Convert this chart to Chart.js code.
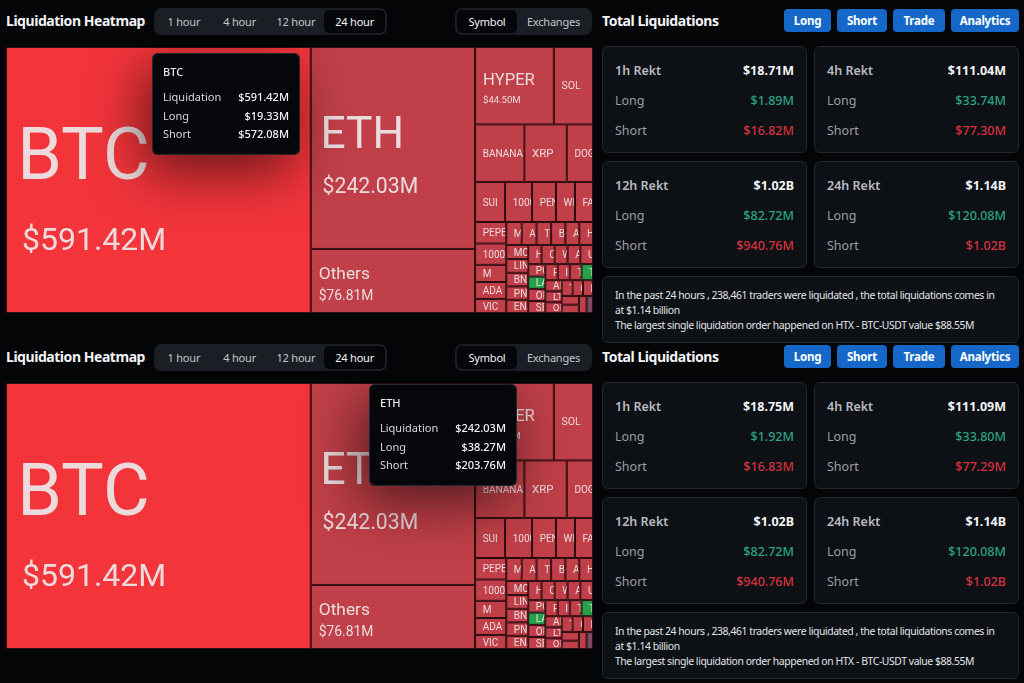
<!DOCTYPE html>
<html>
<head>
<meta charset="utf-8">
<script src="https://cdn.jsdelivr.net/npm/chart.js@4.4.1/dist/chart.umd.min.js"></script>
<style>
  body { margin:0; background:#030507; width:1024px; height:683px; overflow:hidden; position:relative; font-family:"Noto Sans", sans-serif; color:#e6e8eb; }
  .panel { position:absolute; left:0; top:0; width:1024px; height:345px; }
  .title { position:absolute; font-weight:700; font-size:14px; line-height:18px; color:#f3f4f6; letter-spacing:-0.45px; }
  .seg { position:absolute; top:8px; height:27px; background:#1b1e25; border-radius:7px; display:flex; align-items:center; padding:0 2px; box-sizing:border-box; }
  .seg span { font-size:11px; color:#c4c7cd; height:23px; line-height:23px; text-align:center; border-radius:5px; letter-spacing:-0.2px; }
  .seg span.on { background:#04060a; color:#f5f5f5; }
  .btn { position:absolute; top:9px; height:23px; line-height:23px; background:#1668c8; color:#fff; font-weight:700; font-size:11.5px; text-align:center; border-radius:4px; letter-spacing:-0.2px; }
  .card { position:absolute; width:205px; height:107px; background:#0d1015; border:1px solid #23272f; border-radius:6px; box-sizing:border-box; }
  .row { position:absolute; left:12px; right:12px; height:18px; line-height:18px; font-size:12.5px; display:flex; justify-content:space-between; }
  .row .k { color:#9b9fa7; }
  .row.head .k { color:#b8bbc1; font-weight:600; }
  .row .v { font-weight:600; }
  .row.head .v { color:#f3f4f6; font-weight:700; }
  .row .v.g { color:#2aa482; font-weight:500; }
  .row .v.r { color:#d5323f; font-weight:500; }
  .info { position:absolute; left:602px; top:276px; width:417px; height:67px; background:#0d1015; border:1px solid #23272f; border-radius:6px; box-sizing:border-box; padding:11px 0 0 12px; font-size:10.4px; line-height:15px; color:#e3e5e8; letter-spacing:-0.42px; white-space:nowrap; overflow:hidden; }
  .map { position:absolute; left:6px; top:47px; }
</style>
</head>
<body>
<script>
// treemap data (24h, by symbol)
const names = ['BTC', 'ETH', 'Others', 'HYPER', 'SOL', 'BANANAS', 'XRP', 'DOGE', 'SUI', '1000PEPE', 'PENGU', 'WIF', 'FARTCOIN',
  'PEPE', '1000BONK', 'M', 'ADA', 'VIC',
  'MYX', 'AVAX', 'TIA', 'BCH', 'AAVE', 'HBAR',
  'MOODENG', 'LINK', 'BNB', 'PNUT', 'ENA',
  'HOME', 'ONDO', 'WLD', 'APT', 'UNI',
  'POPCAT', 'LAYER', 'OP', 'SEI',
  'PUMP', 'IP', 'TRUMP', 'TAO',
  'AI16Z', 'LTC', 'ORDI',
  'TON', 'CRV', 'NEAR', 'INJ', 'ARB', 'JUP', 'MEW'];
const values = [591.42, 242.03, 76.81, 44.50, 22.1, 20.7, 17.8, 11.0, 8.76, 7.88, 7.0, 5.55, 5.26,
  4.9, 4.85, 3.9, 3.85, 3.2,
  2.6, 2.5, 2.45, 2.4, 2.35, 2.3,
  2.25, 2.2, 2.18, 2.15, 2.12,
  1.85, 1.82, 1.8, 1.78, 1.76,
  1.55, 1.53, 1.51, 1.49,
  1.45, 1.42, 1.38, 1.35,
  1.33, 1.3, 1.28,
  1.25, 1.2, 1.15, 1.1, 1.05, 0.95, 0.8];
// share of longs in each symbol's liquidations
const longShare = [0.033, 0.158, 0.2, 0.18, 0.2, 0.22, 0.2, 0.25, 0.2, 0.2, 0.2, 0.2, 0.25,
  0.2, 0.2, 0.3, 0.2, 0.25,
  0.2, 0.2, 0.2, 0.2, 0.2, 0.2,
  0.2, 0.2, 0.2, 0.2, 0.2,
  0.2, 0.2, 0.2, 0.2, 0.2,
  0.2, 0.7, 0.2, 0.2,
  0.2, 0.2, 0.2, 0.7,
  0.2, 0.2, 0.2,
  0.2, 0.2, 0.2, 0.2, 0.2, 0.2, 0.5];

// tooltips shown in the two shots
const tipSymbol = ['BTC', 'ETH'];
const tipLiq = ['$591.42M', '$242.03M'];
const tipLong = ['$19.33M', '$38.27M'];
const tipShort = ['$572.08M', '$203.76M'];

// stats cards
const periods = ['1h Rekt', '4h Rekt', '12h Rekt', '24h Rekt'];
const totalsA = ['$18.71M', '$111.04M', '$1.02B', '$1.14B'];
const longsA = ['$1.89M', '$33.74M', '$82.72M', '$120.08M'];
const shortsA = ['$16.82M', '$77.30M', '$940.76M', '$1.02B'];
const totalsB = ['$18.75M', '$111.09M', '$1.02B', '$1.14B'];
const longsB = ['$1.92M', '$33.80M', '$82.72M', '$120.08M'];
const shortsB = ['$16.83M', '$77.29M', '$940.76M', '$1.02B'];

const tabs = ['1 hour', '4 hour', '12 hour', '24 hour'];
const infoLines = [
  'In the past 24 hours , 238,461 traders were liquidated , the total liquidations comes in',
  'at $1.14 billion',
  'The largest single liquidation order happened on HTX - BTC-USDT value $88.55M'
];

const RATIO = 0.5 * (1 + Math.sqrt(5));

function worst(row, fixed) {
  let max = 0, min = Infinity;
  row.forEach(n => { if (n.area > max) max = n.area; if (n.area < min) min = n.area; });
  const sq = row.area * row.area;
  const f = fixed * fixed * RATIO;
  return sq ? Math.max(f * max / sq, sq / (f * min)) : Infinity;
}

function position(row, fixed, rect, flush) {
  const horiz = fixed === rect.w;
  let last = horiz ? rect.x : rect.y;
  let other = fixed ? row.area / fixed : 0;
  const otherMax = horiz ? rect.h : rect.w;
  if (flush || other > otherMax) other = otherMax;
  row.forEach((n, i) => {
    const step = other ? n.area / other : 0;
    const remain = (horiz ? rect.x + rect.w : rect.y + rect.h) - last;
    const len = (i === row.length - 1 || remain < step) ? remain : step;
    if (horiz) { n.x0 = last; n.x1 = last + len; n.y0 = rect.y; n.y1 = rect.y + other; }
    else { n.y0 = last; n.y1 = last + len; n.x0 = rect.x; n.x1 = rect.x + other; }
    last += len;
  });
  if (horiz) { rect.y += other; rect.h -= other; } else { rect.x += other; rect.w -= other; }
}

function squarify(w, h) {
  const total = values.reduce((a, b) => a + b, 0);
  const nodes = names.map((n, i) => ({ name: n, value: values[i], longShare: longShare[i], area: values[i] / total * w * h }));
  nodes.sort((a, b) => b.value - a.value);
  const rect = { x: 0, y: 0, w: w, h: h };
  let fixed = Math.min(w, h), best = Infinity;
  const row = []; row.area = 0;
  for (let i = 0; i < nodes.length;) {
    row.push(nodes[i]); row.area += nodes[i].area;
    const score = worst(row, fixed);
    if (score <= best) { i++; best = score; }
    else {
      row.area -= row.pop().area;
      position(row, fixed, rect, false);
      fixed = Math.min(rect.w, rect.h);
      row.length = 0; row.area = 0; best = Infinity;
    }
  }
  if (row.length) position(row, fixed, rect, true);
  nodes.forEach(n => { n.x = (n.x0 + n.x1) / 2; n.y = (n.y0 + n.y1) / 2; });
  return nodes;
}

function cellColor(ls) {
  if (ls < 0.08) return '#f3353b';
  if (ls < 0.42) return '#c13f48';
  if (ls < 0.58) return '#7a4b5b';
  return '#29a04a';
}

const treemapPlugin = {
  id: 'treemap',
  afterDatasetsDraw(chart) {
    const { ctx, scales: { x, y } } = chart;
    const cells = chart.data.datasets[0].data;
    ctx.save();
    cells.forEach(c => {
      const l = x.getPixelForValue(c.x0), r = x.getPixelForValue(c.x1);
      const t = y.getPixelForValue(c.y0), b = y.getPixelForValue(c.y1);
      ctx.fillStyle = cellColor(c.longShare);
      ctx.fillRect(l, t, r - l, b - t);
      ctx.strokeStyle = '#2a0e12';
      ctx.lineWidth = 1;
      ctx.strokeRect(l + 0.5, t + 0.5, r - l - 1, b - t - 1);
    });
    // labels
    cells.forEach(c => {
      const l = x.getPixelForValue(c.x0), r = x.getPixelForValue(c.x1);
      const t = y.getPixelForValue(c.y0), b = y.getPixelForValue(c.y1);
      const w = r - l, h = b - t;
      if (h < 10 || w < 8) return;
      ctx.save();
      ctx.beginPath(); ctx.rect(l + 1, t + 1, w - 2, h - 2); ctx.clip();
      ctx.font = '100px Roboto';
      const em = ctx.measureText(c.name).width / 100;
      let fs = Math.max(10, Math.min(0.27 * Math.min(w, h), 0.8 * (w - 14) / em));
      if (h < 14) fs = Math.min(fs, h - 1);
      const pad = 7 + fs * 0.06;
      ctx.fillStyle = 'rgba(236,228,230,0.95)';
      ctx.textBaseline = 'alphabetic';
      ctx.textAlign = 'left';
      if (w >= 60 && h >= 50) {
        const txt = '$' + c.value.toFixed(2) + 'M';
        let vs = Math.max(9.5, Math.min(fs * 0.8, 0.105 * Math.max(w, h)));
        const block = 0.71 * fs + 0.67 * fs + 0.71 * vs;
        const top = t + h / 2 + 0.035 * h - block / 2;
        ctx.font = fs + 'px Roboto';
        ctx.fillText(c.name, l + pad, top + 0.71 * fs);
        ctx.font = vs + 'px Roboto';
        ctx.fillText(txt, l + pad + Math.max(0, (fs - 20) * 0.09), top + 1.38 * fs + 0.71 * vs);
      } else {
        ctx.font = fs + 'px Roboto';
        ctx.fillText(c.name, l + pad, t + h / 2 + 0.355 * fs);
      }
      ctx.restore();
    });
    // tooltip
    const tip = chart.options.plugins.treemap;
    if (tip) {
      const bx = tip.left, by = tip.top, bw = 148, bh = 102;
      ctx.save();
      ctx.shadowColor = 'rgba(0,0,0,0.6)';
      ctx.shadowBlur = 55;
      ctx.shadowOffsetX = -8;
      ctx.shadowOffsetY = 16;
      ctx.fillStyle = '#05070b';
      ctx.beginPath(); ctx.roundRect(bx, by, bw, bh, 6); ctx.fill();
      ctx.restore();
      ctx.save();
      ctx.strokeStyle = 'rgba(60,64,72,0.6)';
      ctx.beginPath(); ctx.roundRect(bx + 0.5, by + 0.5, bw - 1, bh - 1, 6); ctx.stroke();
      ctx.textBaseline = 'middle';
      ctx.font = '500 11px "Noto Sans"';
      ctx.fillStyle = '#e9eaec';
      ctx.textAlign = 'left';
      ctx.fillText(tipSymbol[tip.index], bx + 11, by + 20);
      const keys = ['Liquidation', 'Long', 'Short'];
      const vals = [tipLiq[tip.index], tipLong[tip.index], tipShort[tip.index]];
      keys.forEach((k, i) => {
        const yy = by + 45 + i * 18.5;
        ctx.textAlign = 'left';
        ctx.font = '11px "Noto Sans"';
        ctx.fillStyle = '#d6d8dc';
        ctx.fillText(k, bx + 11, yy);
        ctx.textAlign = 'right';
        ctx.font = '500 11px "Noto Sans"';
        ctx.fillStyle = '#f2f3f5';
        ctx.fillText(vals[i], bx + bw - 11, yy);
      });
      ctx.restore();
    }
    ctx.restore();
  }
};

function el(parent, cls, css, html) {
  const d = document.createElement('div');
  if (cls) d.className = cls;
  Object.assign(d.style, css || {});
  if (html != null) d.innerHTML = html;
  parent.appendChild(d);
  return d;
}

function buildPanel(top, tipIndex, tipPos, totals, longs, shorts) {
  const p = el(document.body, 'panel', { top: top + 'px' });
  el(p, 'title', { left: '6px', top: '12px' }, 'Liquidation Heatmap');
  const seg = el(p, 'seg', { left: '154px', width: '233px' });
  const tabW = [56, 56, 57, 61];
  tabs.forEach((t, i) => {
    const s = document.createElement('span');
    s.textContent = t; s.style.width = tabW[i] + 'px';
    if (i === 3) s.className = 'on';
    seg.appendChild(s);
  });
  const seg2 = el(p, 'seg', { left: '455px', width: '137px' });
  ['Symbol', 'Exchanges'].forEach((t, i) => {
    const s = document.createElement('span');
    s.textContent = t; s.style.width = (i === 0 ? 60 : 73) + 'px';
    if (i === 0) s.className = 'on';
    seg2.appendChild(s);
  });

  el(p, 'title', { left: '602px', top: '12px' }, 'Total Liquidations');
  [['Long', 784, 47], ['Short', 837, 50], ['Trade', 893, 52], ['Analytics', 951, 68]].forEach(b => {
    el(p, 'btn', { left: b[1] + 'px', width: b[2] + 'px' }, b[0]);
  });
  const cardPos = [[602, 46], [814, 46], [602, 161], [814, 161]];
  periods.forEach((per, i) => {
    const c = el(p, 'card', { left: cardPos[i][0] + 'px', top: cardPos[i][1] + 'px' });
    el(c, 'row head', { top: '15px' }, '<span class="k">' + per + '</span><span class="v">' + totals[i] + '</span>');
    el(c, 'row', { top: '45px' }, '<span class="k">Long</span><span class="v g">' + longs[i] + '</span>');
    el(c, 'row', { top: '75px' }, '<span class="k">Short</span><span class="v r">' + shorts[i] + '</span>');
  });
  el(p, 'info', {}, infoLines.join('<br>'));

  const wrap = el(p, 'map', {});
  const cv = document.createElement('canvas');
  cv.width = 587; cv.height = 266;
  cv.style.width = '587px'; cv.style.height = '266px';
  wrap.appendChild(cv);
  const cells = squarify(cv.width, cv.height);
  new Chart(cv, {
    type: 'scatter',
    data: { datasets: [{ data: cells, pointRadius: 0, pointHoverRadius: 0 }] },
    options: {
      responsive: false,
      animation: false,
      events: [],
      layout: { padding: 0 },
      plugins: {
        legend: { display: false },
        tooltip: { enabled: false },
        treemap: { index: tipIndex, left: tipPos[0], top: tipPos[1] }
      },
      scales: {
        x: { type: 'linear', min: 0, max: cv.width, display: false },
        y: { type: 'linear', min: 0, max: cv.height, reverse: true, display: false }
      }
    },
    plugins: [treemapPlugin]
  });
}

buildPanel(0, 0, [146, 6], totalsA, longsA, shortsA);
buildPanel(336, 1, [363, 1], totalsB, longsB, shortsB);
</script>
</body>
</html>
